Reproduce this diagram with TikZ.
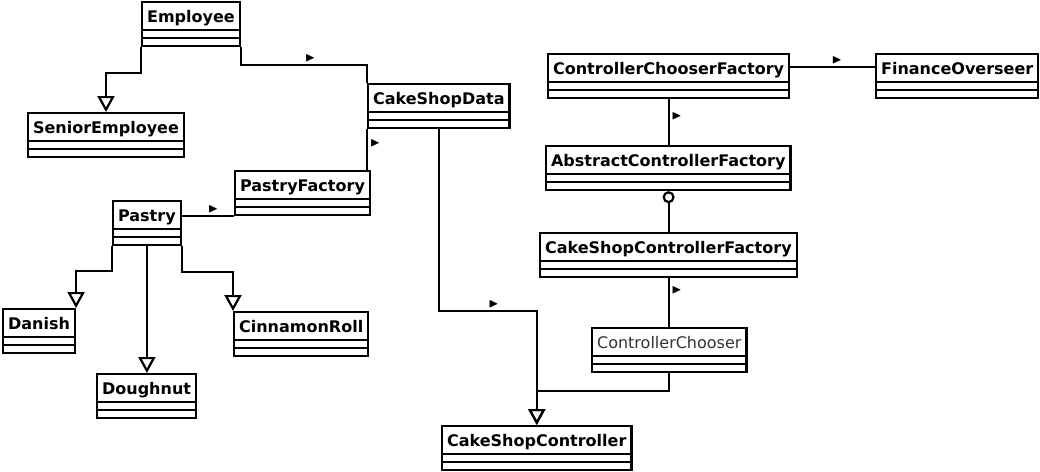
\documentclass[tikz,border=0pt]{standalone}
\usepackage{amssymb}
\usepackage{fontspec}
\setmainfont{DejaVu Sans}
\usetikzlibrary{arrows.meta}

\begin{document}
\begin{tikzpicture}[x=1pt,y=-1pt,line width=2.2pt,
  umlclass/.style={draw, anchor=north west, font=\fontsize{16}{19}\selectfont\bfseries,
    inner xsep=5pt, inner ysep=4pt, text height=16pt, text depth=20pt,
    path picture={\draw ([yshift=-28pt]path picture bounding box.north west) -- ([yshift=-28pt]path picture bounding box.north east)
      ([yshift=-36pt]path picture bounding box.north west) -- ([yshift=-36pt]path picture bounding box.north east);}},
  plainclass/.style={umlclass, font=\fontsize{16}{19}\selectfont, text=black!80},
  dirmark/.style={inner sep=0pt, font=\fontsize{13}{13}\selectfont},
  inherit/.style={-{Triangle[open,length=16pt,width=17pt]}},
  lolly/.style={-{Circle[open,length=12pt,width=12pt]}}]
\useasboundingbox (0,0) rectangle (1040,471);
% Staff and data classes
\node[umlclass] (emp) at (141,1) {Employee};
\node[umlclass] (senior) at (27,112) {SeniorEmployee};
\node[umlclass] (data) at (367,83) {CakeShopData};
\node[umlclass] (pfac) at (234,170) {PastryFactory};
% Pastry hierarchy
\node[umlclass] (pastry) at (112,200) {Pastry};
\node[umlclass] (danish) at (2,308) {Danish};
\node[umlclass] (dough) at (96,373) {Doughnut};
\node[umlclass] (cinn) at (233,311) {CinnamonRoll};
% Controller side
\node[umlclass] (ccfac) at (547,53) {ControllerChooserFactory};
\node[umlclass] (fin) at (875,53) {FinanceOverseer};
\node[umlclass] (acfac) at (545,145) {AbstractControllerFactory};
\node[umlclass] (cscfac) at (539,232) {CakeShopControllerFactory};
\node[plainclass] (chooser) at (591,327) {ControllerChooser};
\node[umlclass] (ctrl) at (441,425) {CakeShopController};
% Connectors
\draw[inherit] (emp.south west) -- ++(0,26) -| (senior.north);
\draw (emp.south east) -- ++(0,18) -| node[pos=0.275, dirmark, above=2pt] {$\blacktriangleright$} (data.north west);
\draw (data.south west) -- node[pos=0.33, dirmark, right=2pt] {$\blacktriangleright$} (data.south west |- pfac.north);
\draw (pastry.north east |- pfac.south west) -- node[pos=0.6, dirmark, above=2pt] {$\blacktriangleright$} (pfac.south west);
\draw[inherit] (pastry.south west) -- ++(0,25) -| (danish.north east);
\draw[inherit] (pastry.south) -- (pastry.south |- dough.north);
\draw[inherit] (pastry.south east) -- ++(0,26) -| (cinn.north west);
\draw[inherit] (data.south) -- ++(0,182) -| node[pos=0.28, dirmark, above=2pt] {$\blacktriangleright$} (ctrl.north);
\draw[inherit] (chooser.south) -- ++(0,18) -| (ctrl.north);
\draw ([yshift=-14pt]ccfac.north east) -- node[pos=0.55, dirmark, above=2pt] {$\blacktriangleright$} ([yshift=-14pt]fin.north west);
\draw (ccfac.south) -- node[pos=0.375, dirmark, right=2pt] {$\blacktriangleright$} (ccfac.south |- acfac.north);
\draw[lolly] (ccfac.south |- cscfac.north) -- (ccfac.south |- acfac.south);
\draw (ccfac.south |- cscfac.south) -- node[pos=0.24, dirmark, right=2pt] {$\blacktriangleright$} (ccfac.south |- chooser.north);
\end{tikzpicture}
\end{document}
